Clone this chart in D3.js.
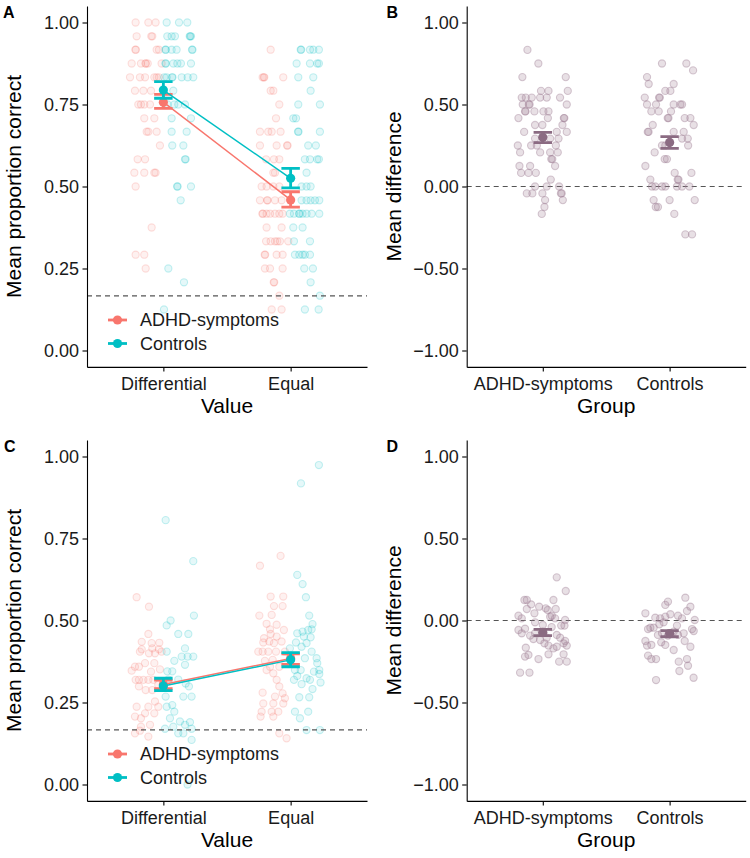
<!DOCTYPE html>
<html><head><meta charset="utf-8">
<script src="https://cdn.jsdelivr.net/npm/d3@7"></script>
<style>body{margin:0;background:#fff}</style>
</head><body>
<script>
// ---------------- DATA ----------------
const conditions = ["Differential", "Equal"];
const groups = ["ADHD-symptoms", "Controls"];
const propTicks = [0, 0.25, 0.5, 0.75, 1];
const diffTicks = [-1, -0.5, 0, 0.5, 1];
const chanceLevel = 1 / 6;

// each point: [value, horizontal jitter in category units]
// Panel A
const aDiffADHD = [[1.000,-0.218],[1.000,-0.118],[1.000,-0.061],[0.958,-0.210],[0.958,-0.095],[0.958,-0.087],
 [0.917,-0.220],[0.917,-0.216],[0.917,-0.053],[0.917,-0.035],[0.875,-0.249],[0.875,-0.176],[0.875,-0.141],[0.875,-0.137],
 [0.875,-0.123],[0.875,-0.014],[0.833,-0.262],[0.833,-0.184],[0.833,-0.144],[0.833,-0.071],[0.833,-0.053],[0.833,-0.035],
 [0.792,-0.223],[0.792,-0.157],[0.792,-0.097],[0.750,-0.197],[0.750,-0.176],[0.750,-0.150],[0.750,-0.105],
 [0.708,-0.150],[0.708,-0.071],[0.667,-0.131],[0.667,-0.118],[0.667,-0.053],[0.625,-0.027],[0.583,-0.202],[0.583,-0.144],
 [0.542,-0.228],[0.542,-0.150],[0.542,-0.071],[0.542,-0.061],[0.500,-0.218],[0.375,-0.092],[0.292,-0.218],[0.292,-0.150],[0.250,-0.139]];
const aDiffCtrl = [[1.000,0.026],[1.000,0.123],[1.000,0.188],[0.958,0.031],[0.958,0.065],[0.958,0.091],[0.958,0.207],[0.958,0.211],[0.958,0.217],
 [0.917,0.016],[0.917,0.020],[0.917,0.065],[0.917,0.104],[0.917,0.225],[0.917,0.229],[0.875,0.016],[0.875,0.020],[0.875,0.078],
 [0.875,0.110],[0.875,0.138],[0.875,0.217],[0.833,0.007],[0.833,0.026],[0.833,0.068],[0.833,0.072],[0.833,0.144],[0.833,0.191],[0.833,0.235],
 [0.792,0.078],[0.750,0.034],[0.750,0.086],[0.750,0.117],[0.750,0.170],[0.708,0.065],[0.708,0.217],[0.667,0.065],[0.667,0.183],
 [0.625,0.070],[0.625,0.157],[0.583,0.170],[0.583,0.175],[0.500,0.108],[0.500,0.112],[0.500,0.217],[0.458,0.136],[0.250,0.039],[0.208,0.162],[0.125,0.005]];
const aEqADHD = [[0.917,-0.157],[0.833,-0.220],[0.833,-0.211],[0.833,-0.207],[0.833,-0.058],[0.792,-0.157],[0.792,-0.136],[0.750,-0.089],
 [0.708,-0.115],[0.667,-0.241],[0.667,-0.176],[0.667,-0.149],[0.667,-0.079],[0.625,-0.241],[0.625,-0.110],[0.625,-0.028],[0.625,-0.024],
 [0.583,-0.193],[0.583,-0.131],[0.583,-0.089],[0.542,-0.136],[0.542,-0.123],[0.500,-0.228],[0.500,-0.189],[0.500,-0.136],[0.500,-0.089],
 [0.458,-0.241],[0.458,-0.185],[0.458,-0.181],[0.458,-0.123],[0.458,-0.071],[0.417,-0.222],[0.417,-0.218],[0.417,-0.189],[0.417,-0.162],
 [0.417,-0.123],[0.417,-0.089],[0.417,-0.063],[0.375,-0.189],[0.375,-0.071],[0.333,-0.193],[0.333,-0.157],[0.333,-0.123],[0.333,-0.105],
 [0.333,-0.084],[0.333,-0.019],[0.292,-0.204],[0.292,-0.200],[0.292,-0.110],[0.292,-0.063],[0.250,-0.202],[0.250,-0.162],[0.250,-0.063],
 [0.208,-0.133],[0.208,-0.129],[0.167,-0.089],[0.125,-0.149],[0.125,-0.071]];
const aEqCtrl = [[0.917,0.079],[0.917,0.083],[0.917,0.152],[0.917,0.178],[0.917,0.222],[0.875,0.047],[0.875,0.152],[0.875,0.209],[0.875,0.222],
 [0.833,0.060],[0.833,0.178],[0.792,0.157],[0.750,0.060],[0.750,0.230],[0.708,0.021],[0.708,0.042],[0.667,0.058],[0.667,0.062],[0.667,0.230],
 [0.625,0.138],[0.625,0.198],[0.583,0.112],[0.583,0.152],[0.583,0.209],[0.583,0.222],[0.542,0.125],[0.500,0.086],[0.500,0.125],[0.500,0.157],
 [0.458,0.086],[0.458,0.125],[0.458,0.157],[0.458,0.191],[0.458,0.225],[0.417,-0.006],[0.417,0.026],[0.417,0.066],[0.417,0.070],[0.417,0.094],
 [0.417,0.125],[0.417,0.165],[0.417,0.225],[0.375,0.021],[0.375,0.094],[0.333,0.026],[0.333,0.152],[0.292,0.034],[0.292,0.068],[0.292,0.094],
 [0.292,0.112],[0.292,0.152],[0.250,0.107],[0.250,0.175],[0.208,0.157],[0.167,0.230],[0.125,0.112],[0.125,0.220]];
const aMeanADHD = [0.757, 0.459], aLoADHD = [0.738, 0.437], aHiADHD = [0.781, 0.484];
const aMeanCtrl = [0.794, 0.525], aLoCtrl = [0.769, 0.496], aHiCtrl = [0.820, 0.555];

// Panel B (Differential - Equal)
const bADHD = [[0.833,-0.121],[0.750,-0.035],[0.667,-0.161],[0.667,0.181],[0.583,-0.014],[0.583,0.045],[0.583,0.197],[0.542,-0.166],
 [0.542,-0.134],[0.542,-0.087],[0.542,-0.021],[0.542,0.031],[0.542,0.136],[0.500,-0.158],[0.500,-0.110],[0.500,-0.104],[0.500,0.189],
 [0.458,-0.140],[0.458,-0.136],[0.458,-0.066],[0.458,0.005],[0.458,0.045],[0.417,-0.192],[0.417,0.040],[0.417,0.166],[0.417,0.170],
 [0.375,-0.061],[0.375,-0.003],[0.375,0.155],[0.333,-0.147],[0.333,0.110],[0.333,0.189],[0.292,-0.061],[0.292,0.058],[0.292,0.124],
 [0.250,-0.197],[0.250,-0.092],[0.250,-0.047],[0.250,0.103],[0.208,-0.179],[0.208,-0.021],[0.208,0.058],[0.208,0.118],[0.167,0.067],
 [0.167,0.075],[0.125,-0.184],[0.125,-0.100],[0.125,0.097],[0.083,-0.171],[0.083,-0.113],[0.083,-0.055],[0.042,0.063],[0.000,-0.061],
 [0.000,0.031],[0.000,0.129],[-0.042,-0.126],[-0.042,-0.082],[-0.042,-0.003],[-0.042,0.143],[-0.042,0.149],[-0.083,0.018],[-0.083,0.158],
 [-0.125,0.013],[-0.167,-0.008]];
const bCtrl = [[0.750,-0.060],[0.750,0.132],[0.708,0.185],[0.667,-0.178],[0.625,-0.165],[0.625,0.032],[0.583,-0.034],[0.583,0.006],
 [0.542,-0.196],[0.542,-0.083],[0.542,-0.077],[0.500,-0.178],[0.500,-0.107],[0.500,0.032],[0.500,0.085],[0.500,0.098],[0.458,-0.144],
 [0.458,-0.086],[0.458,0.011],[0.417,-0.015],[0.417,-0.009],[0.417,0.119],[0.417,0.164],[0.375,-0.133],[0.375,0.190],[0.333,-0.172],
 [0.333,-0.166],[0.333,0.032],[0.333,0.111],[0.292,0.098],[0.292,0.143],[0.250,-0.060],[0.250,-0.034],[0.250,0.146],[0.208,-0.118],
 [0.167,-0.039],[0.167,-0.021],[0.125,-0.191],[0.083,0.040],[0.083,0.172],[0.042,-0.152],[0.042,0.064],[0.042,0.070],[0.000,-0.139],
 [0.000,-0.113],[0.000,-0.060],[0.000,-0.034],[0.000,0.058],[0.000,0.098],[0.000,0.156],[-0.083,-0.126],[-0.083,0.000],[-0.083,0.198],
 [-0.125,-0.109],[-0.125,-0.092],[-0.167,0.037],[-0.292,0.124],[-0.292,0.177]];
const bMean = [0.300, 0.269], bLo = [0.267, 0.233], bHi = [0.330, 0.304];

// Panel C
const cDiffADHD = [[0.571,-0.210],[0.542,-0.113],[0.459,-0.118],[0.435,-0.170],[0.432,-0.032],[0.431,-0.092],[0.415,-0.087],[0.412,-0.170],
 [0.412,-0.035],[0.400,-0.113],[0.405,-0.184],[0.400,-0.066],[0.405,-0.014],[0.370,-0.144],[0.370,-0.071],[0.359,-0.223],[0.359,-0.192],
 [0.344,-0.097],[0.351,-0.027],[0.347,-0.249],[0.319,-0.218],[0.319,-0.192],[0.319,-0.157],[0.319,-0.118],[0.319,-0.079],[0.304,-0.040],
 [0.299,-0.192],[0.288,-0.139],[0.288,-0.087],[0.237,-0.210],[0.237,-0.118],[0.237,-0.040],[0.253,-0.066],[0.217,-0.144],[0.217,-0.071],
 [0.207,-0.223],[0.202,-0.176],[0.182,-0.105],[0.176,-0.176],[0.156,-0.223],[0.146,-0.118],[0.164,-0.184]];
const cDiffCtrl = [[0.806,0.018],[0.681,0.235],[0.515,0.240],[0.500,0.057],[0.485,0.026],[0.459,0.117],[0.459,0.196],[0.415,0.170],
 [0.405,0.026],[0.390,0.144],[0.390,0.191],[0.390,0.235],[0.377,0.086],[0.365,0.170],[0.345,0.031],[0.345,0.070],[0.320,0.039],
 [0.320,0.117],[0.308,0.175],[0.299,0.201],[0.268,0.018],[0.268,0.157],[0.268,0.222],[0.242,0.070],[0.237,0.026],[0.222,0.086],
 [0.202,0.052],[0.192,0.130],[0.190,0.209],[0.170,0.013],[0.176,0.078],[0.182,0.170],[0.170,0.222],[0.156,0.117],[0.156,0.157],
 [0.136,0.222],[0.000,0.190]];
const cEqADHD = [[0.697,-0.079],[0.667,-0.241],[0.573,-0.157],[0.573,-0.058],[0.544,-0.131],[0.544,-0.063],[0.517,-0.149],[0.515,-0.246],
 [0.490,-0.189],[0.487,-0.110],[0.473,-0.162],[0.471,-0.053],[0.446,-0.209],[0.459,-0.157],[0.451,-0.110],[0.433,-0.215],[0.436,-0.168],
 [0.431,-0.131],[0.436,-0.071],[0.405,-0.254],[0.405,-0.220],[0.405,-0.176],[0.405,-0.115],[0.405,-0.045],[0.377,-0.202],[0.380,-0.141],
 [0.359,-0.162],[0.359,-0.089],[0.349,-0.189],[0.339,-0.136],[0.319,-0.110],[0.280,-0.220],[0.299,-0.089],[0.278,-0.063],[0.268,-0.123],
 [0.263,-0.045],[0.247,-0.215],[0.247,-0.136],[0.247,-0.058],[0.222,-0.228],[0.222,-0.149],[0.222,-0.097],[0.207,-0.236],[0.207,-0.136],
 [0.156,-0.089],[0.141,-0.032]];
const cEqCtrl = [[0.974,0.222],[0.918,0.081],[0.639,0.052],[0.611,0.094],[0.571,0.120],[0.515,0.146],[0.489,0.172],[0.461,0.052],
 [0.466,0.094],[0.471,0.138],[0.473,0.165],[0.451,0.104],[0.449,0.157],[0.433,0.042],[0.431,0.125],[0.415,-0.006],[0.420,0.086],
 [0.405,0.165],[0.385,0.112],[0.385,0.204],[0.349,0.034],[0.349,0.079],[0.370,0.209],[0.349,0.225],[0.331,0.052],[0.324,0.125],
 [0.344,0.183],[0.337,0.225],[0.319,0.026],[0.306,0.086],[0.319,0.152],[0.311,0.235],[0.291,0.172],[0.266,0.068],[0.266,0.146],
 [0.222,0.034],[0.222,0.138],[0.202,0.073],[0.166,0.125],[0.166,0.230]];
const cMeanADHD = [0.305, 0.384], cLoADHD = [0.292, 0.366], cHiADHD = [0.318, 0.398];
const cMeanCtrl = [0.300, 0.380], cLoCtrl = [0.286, 0.359], cHiCtrl = [0.324, 0.402];

// Panel D
const dADHD = [[0.263,0.110],[0.180,0.181],[0.125,-0.145],[0.125,-0.126],[0.098,-0.092],[0.125,0.084],[0.084,-0.029],[0.074,0.023],
 [0.064,0.039],[0.070,-0.126],[0.070,0.102],[0.044,-0.066],[0.029,-0.192],[0.013,-0.166],[0.023,0.058],[0.029,0.071],[0.003,0.176],
 [-0.031,0.171],[-0.031,0.145],[-0.058,-0.192],[-0.078,-0.166],[-0.092,-0.100],[-0.113,-0.074],[-0.078,-0.061],[-0.119,-0.021],
 [-0.139,0.013],[-0.105,0.031],[-0.153,0.045],[-0.088,0.110],[-0.105,0.137],[-0.139,0.164],[-0.153,0.189],[-0.125,0.176],[-0.166,-0.134],
 [-0.160,0.110],[-0.170,0.084],[-0.210,-0.113],[-0.220,-0.140],[-0.235,-0.034],[-0.206,0.045],[-0.206,0.164],[-0.251,0.129],
 [-0.251,0.189],[-0.318,-0.179],[-0.318,-0.105],[-0.027,0.000],[-0.011,-0.061],[0.013,0.097],[-0.050,-0.140],[-0.040,0.070]];
const dCtrl = [[0.139,0.124],[0.115,-0.013],[0.095,-0.034],[0.058,0.137],[0.084,0.164],[0.044,-0.191],[0.038,0.006],[0.029,0.066],
 [0.013,0.098],[0.003,0.198],[0.017,-0.113],[0.013,-0.074],[0.023,-0.034],[-0.044,-0.152],[-0.044,-0.126],[-0.052,-0.170],
 [-0.023,-0.081],[-0.011,-0.047],[-0.031,0.058],[-0.052,0.177],[-0.064,0.190],[-0.088,-0.092],[-0.078,-0.060],[-0.092,-0.013],
 [-0.068,0.032],[-0.088,0.066],[-0.078,0.111],[-0.125,-0.191],[-0.149,-0.144],[-0.153,-0.178],[-0.133,-0.066],[-0.149,-0.034],
 [-0.125,0.119],[-0.160,0.164],[-0.180,0.032],[-0.214,-0.170],[-0.235,-0.144],[-0.235,-0.107],[-0.235,0.137],[-0.251,0.072],
 [-0.276,0.145],[-0.308,0.077],[-0.363,-0.107],[-0.349,0.189]];
const dMean = [-0.073, -0.080], dLo = [-0.092, -0.099], dHi = [-0.054, -0.062];

// ---------------- DRAWING ----------------
const FONT = "'Liberation Sans', Arial, Helvetica, sans-serif";
const colADHD = "#F8766D", colCtrl = "#00BFC4", colDiff = "#8B6B82", colDiffPt = "#9E7E94";
const TEXT = "#1a1a1a";

const svg = d3.select("body").append("svg").attr("width", 750).attr("height", 858)
  .style("font-family", FONT);

function axes(g, x, y, ticks, tickFmt, xLabels, xTitle, yTitle, L, R, T, B) {
  const ya = g.append("g").attr("transform", `translate(${L},0)`)
    .call(d3.axisLeft(y).tickValues(ticks).tickFormat(tickFmt).tickSize(4.5).tickSizeOuter(0).tickPadding(3.5));
  const xa = g.append("g").attr("transform", `translate(0,${B})`)
    .call(d3.axisBottom(x).tickValues([1, 2]).tickFormat(i => xLabels[i - 1]).tickSize(4.5).tickSizeOuter(0).tickPadding(5.7));
  [ya, xa].forEach(a => {
    a.selectAll("path.domain").attr("stroke", "#000").attr("stroke-width", 1.1);
    a.selectAll(".tick line").attr("stroke", "#000").attr("stroke-width", 1.1);
    a.selectAll("text").attr("font-size", 18).attr("fill", TEXT).style("font-family", FONT);
  });
  g.append("text").attr("x", (L + R) / 2).attr("y", B + 46).attr("text-anchor", "middle")
    .attr("font-size", 21).attr("fill", "#000").text(xTitle);
  g.append("text").attr("transform", `translate(${L - 66},${(T + B) / 2}) rotate(-90)`)
    .attr("text-anchor", "middle").attr("font-size", 21).attr("fill", "#000").text(yTitle);
}

function dashed(g, L, R, yv) {
  g.append("line").attr("x1", L).attr("x2", R).attr("y1", yv).attr("y2", yv)
    .attr("stroke", "#555").attr("stroke-width", 1.2).attr("stroke-dasharray", "5,4");
}

function jitterPts(g, x, y, pts, cat, color, fo, so) {
  g.append("g").selectAll("circle").data(pts).join("circle")
    .attr("cx", d => x(cat + d[1])).attr("cy", d => y(d[0])).attr("r", 3.6)
    .attr("fill", color).attr("fill-opacity", fo)
    .attr("stroke", color).attr("stroke-opacity", so).attr("stroke-width", 1.1);
}

function errBars(g, x, y, means, lo, hi, color) {
  const cap = 0.0725;
  means.forEach((m, i) => {
    const c = i + 1;
    const p = d3.path();
    p.moveTo(x(c - cap), y(hi[i])); p.lineTo(x(c + cap), y(hi[i]));
    p.moveTo(x(c), y(hi[i])); p.lineTo(x(c), y(lo[i]));
    p.moveTo(x(c - cap), y(lo[i])); p.lineTo(x(c + cap), y(lo[i]));
    g.append("path").attr("d", p.toString()).attr("stroke", color).attr("stroke-width", 2.8).attr("fill", "none");
    g.append("circle").attr("cx", x(c)).attr("cy", y(m)).attr("r", 4.6).attr("fill", color);
  });
}

function propPanel(y0, letter, letterX, sets) {
  const L = 87, R = 367, T = 6.1 + y0, B = 366.9 + y0;
  const g = svg.append("g");
  const x = d3.scaleLinear().domain([0.4, 2.6]).range([L, R]);
  const y = d3.scaleLinear().domain([-0.05, 1.05]).range([B, T]);
  jitterPts(g, x, y, sets.diffADHD, 1, colADHD, 0.1, 0.22);
  jitterPts(g, x, y, sets.eqADHD, 2, colADHD, 0.1, 0.22);
  jitterPts(g, x, y, sets.diffCtrl, 1, colCtrl, 0.1, 0.22);
  jitterPts(g, x, y, sets.eqCtrl, 2, colCtrl, 0.1, 0.22);
  dashed(g, L, R, y(chanceLevel));
  [[sets.mA, sets.loA, sets.hiA, colADHD], [sets.mC, sets.loC, sets.hiC, colCtrl]].forEach(([m, lo, hi, col]) => {
    g.append("path").attr("d", d3.line().x((d, i) => x(i + 1)).y(d => y(d))(m))
      .attr("stroke", col).attr("stroke-width", 1.5).attr("fill", "none");
    errBars(g, x, y, m, lo, hi, col);
  });
  axes(g, x, y, propTicks, d3.format(".2f"), conditions, "Value", "Mean proportion correct", L, R, T, B);
  [[groups[0], colADHD, 320], [groups[1], colCtrl, 343.5]].forEach(([lab, col, ly]) => {
    const yy = ly + y0;
    g.append("line").attr("x1", 108).attr("x2", 127).attr("y1", yy).attr("y2", yy)
      .attr("stroke", col).attr("stroke-width", 2.8);
    g.append("circle").attr("cx", 117.5).attr("cy", yy).attr("r", 4.6).attr("fill", col);
    g.append("text").attr("x", 140).attr("y", yy).attr("dy", "0.35em").attr("font-size", 18)
      .attr("fill", TEXT).text(lab);
  });
  g.append("text").attr("x", letterX).attr("y", y0 + 18.3).attr("font-size", 16).attr("font-weight", "bold")
    .attr("fill", "#000").text(letter);
}

function diffPanel(y0, letter, letterX, ptsA, ptsC, m, lo, hi) {
  const L = 466.7, R = 745.7, T = 6.1 + y0, B = 366.9 + y0;
  const g = svg.append("g");
  const x = d3.scaleLinear().domain([0.4, 2.6]).range([L, R]);
  const y = d3.scaleLinear().domain([-1.1, 1.1]).range([B, T]);
  dashed(g, L, R, y(0));
  jitterPts(g, x, y, ptsA, 1, colDiffPt, 0.24, 0.4);
  jitterPts(g, x, y, ptsC, 2, colDiffPt, 0.24, 0.4);
  errBars(g, x, y, m, lo, hi, colDiff);
  axes(g, x, y, diffTicks, d3.format(".2f"), groups, "Group", "Mean difference", L, R, T, B);
  g.append("text").attr("x", letterX).attr("y", y0 + 18.3).attr("font-size", 16).attr("font-weight", "bold")
    .attr("fill", "#000").text(letter);
}

propPanel(0, "A", 3, {diffADHD: aDiffADHD, eqADHD: aEqADHD, diffCtrl: aDiffCtrl, eqCtrl: aEqCtrl,
  mA: aMeanADHD, loA: aLoADHD, hiA: aHiADHD, mC: aMeanCtrl, loC: aLoCtrl, hiC: aHiCtrl});
diffPanel(0, "B", 386.5, bADHD, bCtrl, bMean, bLo, bHi);
propPanel(434, "C", 4, {diffADHD: cDiffADHD, eqADHD: cEqADHD, diffCtrl: cDiffCtrl, eqCtrl: cEqCtrl,
  mA: cMeanADHD, loA: cLoADHD, hiA: cHiADHD, mC: cMeanCtrl, loC: cLoCtrl, hiC: cHiCtrl});
diffPanel(434, "D", 386.5, dADHD, dCtrl, dMean, dLo, dHi);
</script>
</body></html>
